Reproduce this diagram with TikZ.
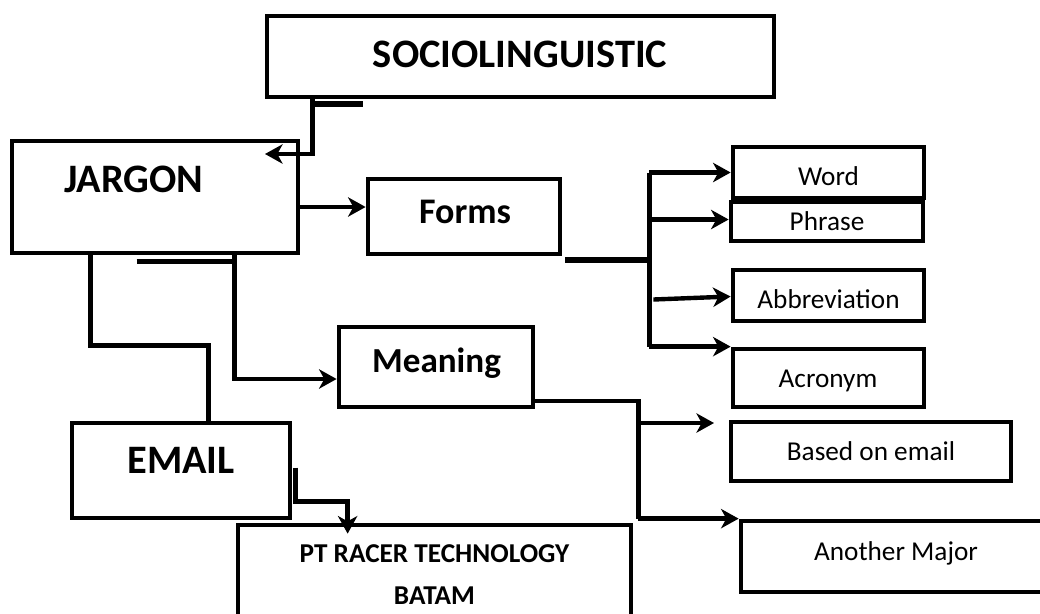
\documentclass[tikz,border=0pt]{standalone}
\usepackage{fontspec}
\setmainfont{Carlito}
\usetikzlibrary{arrows.meta,calc}

\begin{document}
\begin{tikzpicture}[
    x=0.02cm, y=-0.02cm,
    frame/.style={draw, line width=2.7pt, inner sep=0pt},
    dims/.style 2 args={minimum width=#1*0.02cm, minimum height=#2*0.02cm},
    title/.style={anchor=base, font=\bfseries\fontsize{23}{27}\selectfont},
    sub/.style={anchor=base, font=\bfseries\fontsize{20}{24}\selectfont},
    small/.style={anchor=base, font=\bfseries\fontsize{15.5}{18}\selectfont},
    leaf/.style={anchor=base, font=\fontsize{15.5}{19}\selectfont},
    link/.style={line width=2.5pt},
    linkarrow/.style={link, -{Stealth[length=10pt, width=11pt, inset=3pt]}},
    stub/.style={line width=3.2pt}
]
\useasboundingbox (0,0) rectangle (1040,613);

% boxes
\node[frame, dims={507}{81}] (socio) at (520.5,56.5) {};
\node[frame, dims={286}{112}] (jargon) at (155,197) {};
\node[frame, dims={192}{75}] (forms) at (464,216.5) {};
\node[frame, dims={194}{80}] (meaning) at (436,367) {};
\node[frame, dims={218}{95}] (email) at (181,470.5) {};
\node[frame, dims={393}{98}] (pt) at (434.5,574) {};
\node[frame, dims={191}{51}] (word) at (828.5,172.5) {};
\node[frame, dims={192}{39}] (phrase) at (827,221.5) {};
\node[frame, dims={191}{51}] (abbrev) at (828.5,295.5) {};
\node[frame, dims={191}{58}] (acronym) at (828.5,378) {};
\node[frame, dims={280}{59}] (based) at (871,451.5) {};
\node[frame, dims={303}{71}] (another) at (892.5,556.5) {};

% texts
\node[title] (socio-t) at (520,67) {SOCIOLINGUISTIC};
\node[title] (jargon-t) at (134,192) {JARGON};
\node[title] (email-t) at (181,473) {EMAIL};
\node[sub, font=\bfseries\fontsize{20.5}{24}\selectfont] (forms-t) at (465,223) {Forms};
\node[sub] (meaning-t) at (436.5,372) {Meaning};
\node[small] (pt-t) at (434.5,562) {PT RACER TECHNOLOGY};
\node[small] (batam-t) at (434.5,604) {BATAM};
\node[leaf] (word-t) at (828.5,185) {Word};
\node[leaf] (phrase-t) at (827,230) {Phrase};
\node[leaf] (abbrev-t) at (828.5,308) {Abbreviation};
\node[leaf] (acronym-t) at (828,387) {Acronym};
\node[leaf] (based-t) at (871,460) {Based on email};
\node[leaf] (another-t) at (896,560) {Another Major};

% connectors
\coordinate (jin) at (265,154);
\draw[stub] ($(socio.south west)+(48,4.5)$) -- ++(50,0);
\draw[linkarrow] ($(socio.south west)+(48,0)$) |- (jin);
\draw[linkarrow] ($(jargon.east)+(0,10)$) coordinate (j1) -- (j1 -| forms.west);
\draw[link] ($(jargon.south west)+(81,0)$) -- ++(0,90) -| ($(email.north west)+(139,0)$);
\draw[stub] ($(jargon.south west)+(127,6)$) -- ++(100,0);
\draw[linkarrow] ($(jargon.south west)+(225,0)$) |- ($(meaning.west)+(0,12)$);

\draw[stub] ($(forms.south east)+(3,3.5)$) -- ++(84,0) coordinate (fb);
\draw[link] (fb |- word.west) -- (fb |- acronym.north west);
\draw[linkarrow] (fb |- word.west) -- (word.west);
\draw[linkarrow] ($(fb |- phrase.west)+(0,-2)$) -- ($(phrase.west)+(0,-2)$);
\draw[linkarrow] ($(fb |- abbrev.west)+(4,4)$) -- ($(abbrev.west)+(0,1)$);
\draw[linkarrow] (fb |- acronym.north west) -- (acronym.north west);

\coordinate (bt) at (714,423);
\draw[link] ($(meaning.east)+(0,34)$) -- ++(103,0) coordinate (mb) -- (mb |- another.north west);
\draw[linkarrow] (mb |- bt) -- (bt);
\draw[linkarrow] (mb |- another.north west) -- (another.north west);

\draw[linkarrow] ($(email.east)+(3,-3)$) -- ++(0,34) -| ($(pt.north west)+(112,11)$);
\end{tikzpicture}
\end{document}
